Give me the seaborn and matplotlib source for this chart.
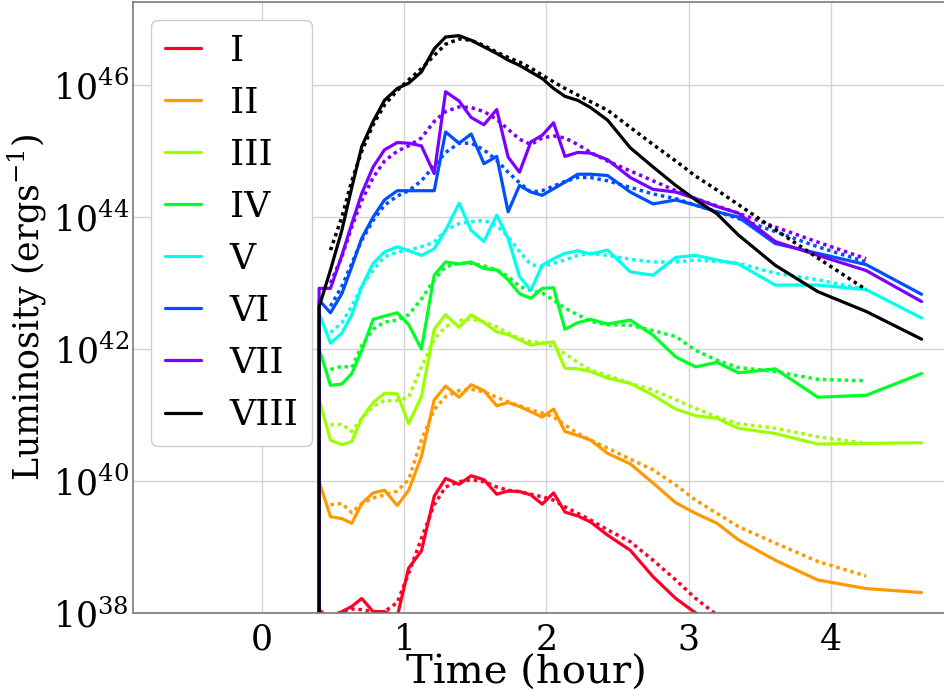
import numpy as np
import matplotlib
matplotlib.use("Agg")
import matplotlib.pyplot as plt
from matplotlib.ticker import NullLocator
import seaborn as sns

# ---------------- data (log10 of luminosity, erg/s) ----------------
LABELS = ["I", "II", "III", "IV", "V", "VI", "VII", "VIII"]

T_START = 0.3999     # onset: luminosity negligible just before
LOG_L_PRE = 30.0

T_SIM = [0.40, 0.48, 0.56, 0.63, 0.70, 0.78, 0.86, 0.95, 1.03, 1.12,
         1.21, 1.29, 1.385, 1.47, 1.56, 1.65, 1.73, 1.81, 1.89, 1.97,
         2.05, 2.13, 2.22, 2.31, 2.43, 2.59, 2.75, 2.91, 3.05, 3.20,
         3.35, 3.61, 3.91, 4.25, 4.64]
T_FIT = T_SIM[1:34]

LOG_I = [38.05, 37.9, 38.02, 38.1, 38.22, 38.02, 38.02, 37.95, 38.68, 38.94,
         39.77, 40.04, 39.95, 40.08, 40.02, 39.8, 39.85, 39.84, 39.79, 39.65,
         39.82, 39.53, 39.47, 39.38, 39.18, 38.95, 38.55, 38.22, 38.0, 37.75,
         37.5, 37.1, 36.7, 36.3, 36.0]
LOG_I_FIT = [37.95, 38.02, 38.06, 38.05, 38.02, 38.02, 38.16, 38.6, 39.13,
             39.64, 39.91, 39.99, 40.02, 39.99, 39.91, 39.86, 39.84, 39.8, 39.76,
             39.71, 39.61, 39.51, 39.41, 39.26, 39.08, 38.8, 38.5, 38.22, 37.97,
             37.7, 37.3, 36.9, 36.5]

LOG_II = [39.99, 39.46, 39.43, 39.36, 39.66, 39.82, 39.86, 39.63, 39.86, 40.37,
          41.23, 41.44, 41.27, 41.46, 41.37, 41.14, 41.19, 41.13, 41.05, 40.97,
          41.09, 40.75, 40.69, 40.62, 40.42, 40.26, 39.97, 39.67, 39.51, 39.36,
          39.11, 38.8, 38.5, 38.37, 38.31]
LOG_II_FIT = [39.64, 39.66, 39.52, 39.66, 39.74, 39.79, 39.85, 40.02, 40.62,
              41.08, 41.28, 41.37, 41.39, 41.35, 41.27, 41.2, 41.14, 41.08, 41.03,
              40.97, 40.85, 40.72, 40.62, 40.5, 40.33, 40.17, 39.94, 39.71, 39.51,
              39.31, 39.06, 38.78, 38.56]

LOG_III = [41.23, 40.62, 40.55, 40.6, 40.95, 41.19, 41.33, 41.32, 40.87, 41.28,
           42.3, 42.52, 42.33, 42.52, 42.4, 42.26, 42.22, 42.14, 42.06, 42.09,
           42.11, 41.71, 41.7, 41.66, 41.56, 41.48, 41.3, 41.09, 40.99, 40.95,
           40.8, 40.72, 40.56, 40.57, 40.58]
LOG_III_FIT = [40.85, 40.86, 40.75, 40.95, 41.13, 41.22, 41.22, 41.27, 41.73,
               42.15, 42.34, 42.43, 42.46, 42.41, 42.34, 42.24, 42.16, 42.11, 42.1,
               42.03, 41.93, 41.8, 41.68, 41.6, 41.48, 41.38, 41.23, 41.1, 40.97,
               40.87, 40.8, 40.67, 40.57]

LOG_IV = [42.0, 41.45, 41.47, 41.63, 41.98, 42.45, 42.5, 42.55, 42.37, 42.0,
          43.12, 43.32, 43.29, 43.32, 43.22, 43.2, 43.05, 42.84, 42.77, 42.92,
          42.93, 42.3, 42.4, 42.45, 42.38, 42.44, 42.21, 41.88, 41.73, 41.8,
          41.64, 41.7, 41.27, 41.3, 41.63]
LOG_IV_FIT = [41.69, 41.74, 41.72, 42.05, 42.3, 42.41, 42.44, 42.52, 42.76,
              43.05, 43.25, 43.3, 43.3, 43.26, 43.2, 43.1, 42.95, 42.89, 42.85,
              42.74, 42.62, 42.52, 42.42, 42.37, 42.36, 42.28, 42.19, 41.98, 41.83,
              41.72, 41.66, 41.54, 41.52]

LOG_V = [42.54, 42.09, 42.24, 42.52, 42.95, 43.3, 43.47, 43.55, 43.49, 43.42,
         43.52, 43.8, 44.21, 43.8, 43.63, 44.03, 43.68, 43.1, 42.89, 43.27,
         43.37, 43.45, 43.49, 43.44, 43.5, 43.17, 43.12, 43.39, 43.42, 43.35,
         43.29, 42.97, 42.97, 42.9, 42.47]
LOG_V_FIT = [42.25, 42.4, 42.65, 42.95, 43.2, 43.4, 43.47, 43.5, 43.55,
             43.62, 43.8, 43.9, 43.93, 43.95, 43.87, 43.7, 43.48, 43.28, 43.25,
             43.3, 43.35, 43.42, 43.45, 43.42, 43.36, 43.32, 43.32, 43.35, 43.33,
             43.3, 43.15, 43.05, 42.9]

LOG_VI = [42.74, 42.55, 42.84, 43.25, 43.68, 44.0, 44.26, 44.4, 44.4, 44.4,
          44.4, 45.29, 45.12, 45.26, 44.81, 44.92, 44.08, 44.48, 44.38, 44.33,
          44.43, 44.53, 44.65, 44.65, 44.63, 44.38, 44.2, 44.26, 44.18, 44.08,
          44.0, 43.6, 43.45, 43.28, 42.83]
LOG_VI_FIT = [42.65, 42.95, 43.3, 43.65, 43.95, 44.18, 44.32, 44.4, 44.55,
              44.78, 44.98, 45.12, 45.12, 45.02, 44.86, 44.68, 44.52, 44.38, 44.4,
              44.47, 44.54, 44.6, 44.6, 44.55, 44.45, 44.35, 44.28, 44.18, 44.08,
              43.98, 43.78, 43.55, 43.32]

LOG_VII = [42.92, 42.92, 43.42, 43.9, 44.36, 44.76, 45.02, 45.13, 45.12, 45.08,
           44.66, 45.9, 45.76, 45.51, 45.40, 45.63, 44.91, 44.68, 45.14, 45.24,
           45.43, 44.92, 44.98, 44.97, 44.87, 44.6, 44.42, 44.38, 44.28, 44.16,
           44.06, 43.63, 43.42, 43.19, 42.72]
LOG_VII_FIT = [43.0, 43.4, 43.85, 44.25, 44.6, 44.85, 45.0, 45.08, 45.2,
               45.45, 45.6, 45.67, 45.66, 45.6, 45.48, 45.33, 45.18, 45.1, 45.2,
               45.23, 45.2, 45.1, 44.98, 44.85, 44.7, 44.55, 44.4, 44.28, 44.17,
               44.06, 43.85, 43.62, 43.37]

LOG_VIII = [42.64, 43.2, 43.8, 44.45, 45.07, 45.45, 45.77, 45.95, 46.03, 46.2,
            46.55, 46.73, 46.75, 46.68, 46.58, 46.48, 46.38, 46.30, 46.20, 46.10,
            45.95, 45.83, 45.77, 45.66, 45.47, 45.05, 44.76, 44.48, 44.26, 44.05,
            43.73, 43.27, 42.87, 42.57, 42.15]
LOG_VIII_FIT = [43.5, 44.0, 44.55, 45.0, 45.4, 45.7, 45.92, 46.08, 46.25,
                46.45, 46.62, 46.7, 46.68, 46.6, 46.5, 46.42, 46.35, 46.26, 46.15,
                46.05, 45.95, 45.85, 45.75, 45.62, 45.36, 45.1, 44.85, 44.62, 44.41,
                44.19, 43.81, 43.38, 42.9]

SIM = [LOG_I, LOG_II, LOG_III, LOG_IV, LOG_V, LOG_VI, LOG_VII, LOG_VIII]
FIT = [LOG_I_FIT, LOG_II_FIT, LOG_III_FIT, LOG_IV_FIT, LOG_V_FIT,
       LOG_VI_FIT, LOG_VII_FIT, LOG_VIII_FIT]

X_TICKS = [0, 1, 2, 3, 4]
Y_TICKS = [1e38, 1e40, 1e42, 1e44, 1e46]

# ---------------- style ----------------
sns.set_theme(style="whitegrid")
plt.rcParams["font.family"] = ["DejaVu Serif"]
plt.rcParams["mathtext.fontset"] = "dejavuserif"
plt.rcParams["text.color"] = "black"
plt.rcParams["axes.labelcolor"] = "black"

fig = plt.figure(figsize=(9.45, 6.91), dpi=100)
ax = fig.add_axes([133 / 945, 78 / 691, 817 / 945, 611 / 691])

cmap = plt.get_cmap("gist_rainbow")
colors = [cmap(i / 7) for i in range(7)] + ["black"]

for lab, sim, fit, col in zip(LABELS, SIM, FIT, colors):
    t = [T_START] + T_SIM
    L = 10 ** np.array([LOG_L_PRE] + sim)
    sns.lineplot(x=t, y=L, color=col, linewidth=2.3, label=lab,
                 estimator=None, sort=False, ax=ax)
    sns.lineplot(x=T_FIT, y=10 ** np.array(fit), color=col, linewidth=2.5,
                 linestyle=(0, (1, 1.1)), estimator=None, sort=False,
                 legend=False, ax=ax)

ax.set_yscale("log")
ax.set_xlim(-0.91, 4.84)
ax.set_ylim(1e38, 10 ** 47.26)
ax.set_xticks(X_TICKS)
ax.set_yticks(Y_TICKS)
ax.yaxis.set_minor_locator(NullLocator())

ax.grid(True, color="#d4d4d4", linewidth=1.0)
for side in ["left", "bottom", "top", "right"]:
    ax.spines[side].set_color("#7a7a7a")
    ax.spines[side].set_linewidth(1.2)
ax.tick_params(axis="both", labelsize=25, color="#7a7a7a", labelcolor="black")
ax.tick_params(axis="x", length=3, pad=4)
ax.tick_params(axis="y", length=0, pad=3)

ax.set_xlabel("Time (hour)", fontsize=29, x=0.481, labelpad=-1)
ax.set_ylabel(r"Luminosity $(\mathrm{erg s^{-1}})$", fontsize=25)
ax.yaxis.set_label_coords(-0.103, 0.5)

leg = ax.legend(loc="upper left", fontsize=26, handlelength=1.0,
                handletextpad=0.8, labelspacing=0.5, borderpad=0.38,
                fancybox=True, framealpha=1.0, edgecolor="0.8")
for line in leg.get_lines():
    line.set_linewidth(2.3)

fig.savefig("out.png", dpi=100)
